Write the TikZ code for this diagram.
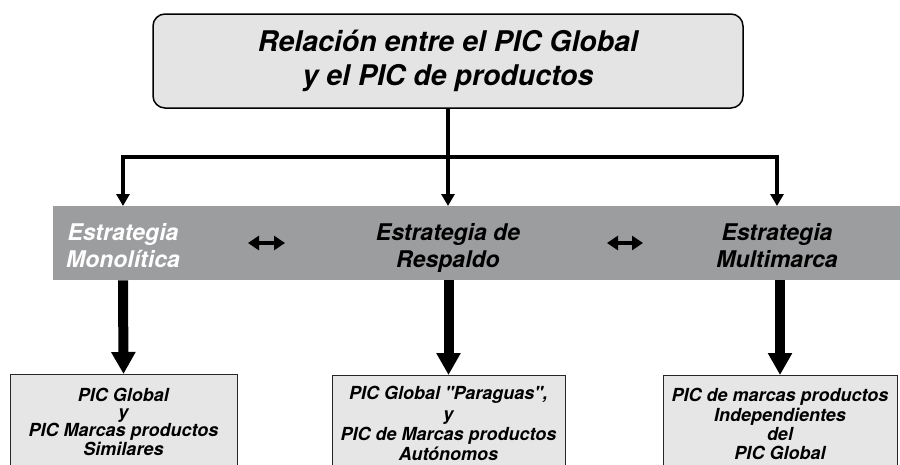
\documentclass[tikz,border=0pt]{standalone}
\usepackage{fontspec}
\setmainfont{TeX Gyre Heros}[Ligatures=TeXOff]
\usetikzlibrary{arrows.meta,calc}
\definecolor{bandgray}{HTML}{9C9D9F}
\definecolor{topfill}{HTML}{E4E4E4}
\definecolor{boxfill}{HTML}{E6E6E6}
\newcommand{\boxlines}[1]{\begin{tabular}{@{}c@{}}#1\end{tabular}}
\begin{document}
\begin{tikzpicture}[x=1pt,y=-1pt,
  topbox/.style={draw=black, line width=1.5pt, fill=topfill, rounded corners=12pt,
    inner sep=0pt, align=center, font=\fontsize{28.5}{34}\selectfont\bfseries\itshape},
  bandbox/.style={fill=bandgray, inner sep=0pt},
  bandtext/.style={inner sep=0pt, align=center, font=\fontsize{23}{27}\selectfont\bfseries\itshape},
  bottombox/.style={draw=black!85, line width=1pt, fill=boxfill, inner sep=0pt},
  bottomtext/.style={inner sep=0pt, anchor=north},
  thinarrow/.style={line width=3.3pt, line join=miter, -{Triangle[width=13pt,length=12pt]}},
  thickarrow/.style={line width=10pt, -{Triangle[width=23pt,length=22pt]}},
  dblarrow/.style={line width=4pt, {Triangle[width=14pt,length=11pt]}-{Triangle[width=14pt,length=11pt]}}
]
\useasboundingbox (0,0) rectangle (900,464);
\clip (0,0) rectangle (900,464);

% top box
\node[topbox, minimum width=590pt, minimum height=94pt] (top) at (448,61)
  {Relación entre el PIC Global\\y el PIC de productos};

% band
\node[bandbox, anchor=north west, minimum width=850pt, minimum height=74pt] (band) at (53,206) {};
\node[bandtext, anchor=north, text=white] (s1) at (123,223.5) {Estrategia\\Monolítica};
\node[bandtext, anchor=north] (s2) at (448,223.5) {Estrategia de\\Respaldo};
\node[bandtext, anchor=north] (s3) at (777,223.5) {Estrategia\\Multimarca};

% double arrows
\coordinate (d1a) at (248,243);
\coordinate (d1b) at (285,243);
\coordinate (d2a) at (607,243);
\coordinate (d2b) at (643,243);
\draw[dblarrow] (d1a) -- (d1b);
\draw[dblarrow] (d2a) -- (d2b);

% connectors from top box
\coordinate (j) at (448,157);
\draw[thinarrow] (top.south) -- (top.south |- band.north);
\draw[thinarrow] (j) -| (s1 |- band.north);
\draw[thinarrow] (j) -| (s3 |- band.north);

% bottom boxes
\node[bottombox, anchor=north, minimum width=227pt, minimum height=100pt] (b1) at (123.5,374) {};
\node[bottombox, anchor=north, minimum width=233pt, minimum height=100pt] (b2) at (448.5,375) {};
\node[bottombox, anchor=north, minimum width=234pt, minimum height=100pt] (b3) at (780,375) {};

\node[bottomtext, font=\fontsize{18}{17}\selectfont\bfseries\itshape] (t1) at (123.5,387.6)
  {\boxlines{PIC Global\\y\\PIC Marcas productos\\Similares}};
\node[bottomtext, font=\fontsize{18}{20.3}\selectfont\bfseries\itshape] (t2) at (448.5,385.3)
  {\boxlines{PIC Global "Paraguas",\\y\\PIC de Marcas productos\\Autónomos}};
\node[bottomtext, font=\fontsize{18}{19.3}\selectfont\bfseries\itshape] (t3) at (780,388)
  {\boxlines{PIC de marcas productos\\Independientes\\del\\PIC Global}};

% thick arrows
\draw[thickarrow] (s1 |- band.south) -- (b1.north);
\draw[thickarrow] (b2.north |- band.south) -- (b2.north);
\draw[thickarrow] (b3.north |- band.south) -- (b3.north);
\end{tikzpicture}
\end{document}
